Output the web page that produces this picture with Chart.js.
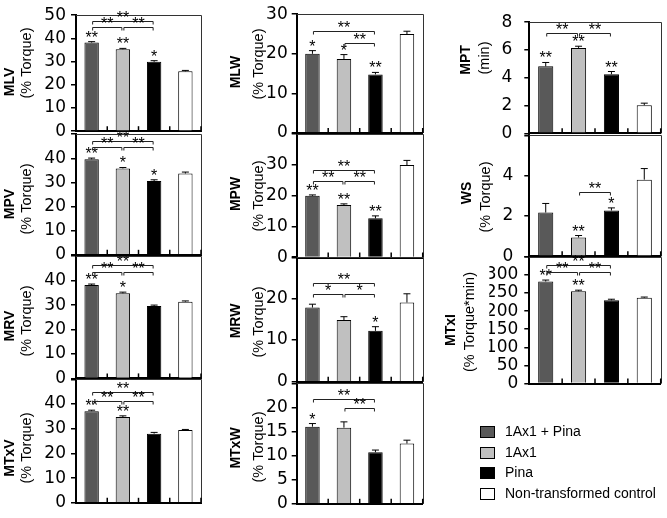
<!DOCTYPE html>
<html>
<head>
<meta charset="utf-8">
<script src="https://cdn.jsdelivr.net/npm/chart.js@4.4.1/dist/chart.umd.min.js"></script>
<style>
  body { margin: 0; background: #fff; }
  #wrap { position: relative; width: 667px; height: 518px; overflow: hidden; }
  #wrap canvas { position: absolute; left: 0; top: 0; }
  .lg { position: absolute; font: 14px "Liberation Sans", Arial, sans-serif; color: #000; white-space: nowrap; }
  .lg i { position: absolute; left: 0; top: 3px; width: 13px; height: 10px; border: 1px solid #000; }
  .lg span { position: absolute; left: 25px; top: 0; line-height: 16px; }
</style>
</head>
<body>
<div id="wrap"></div>
<script>
// groups, same order in every panel
const groups = ['1Ax1 + Pina', '1Ax1', 'Pina', 'Non-transformed control'];
const barColors = ['#595959', '#c0c0c0', '#000000', '#ffffff'];

// values (mean, SE, stars over bars, brackets [from, to, level, label])
const MLV = [38.2, 35.3, 29.9, 25.8];
const MLV_err = [0.4, 0.4, 0.5, 0.4];
const MLV_stars = ['**', '**', '*', ''];
const MLV_brackets = [[0, 2, 47.5, '**'], [0, 1, 44.8, '**'], [1, 2, 44.8, '**']];

const MPV = [39.6, 35.8, 30.6, 33.7];
const MPV_err = [0.5, 0.4, 0.5, 0.6];
const MPV_stars = ['**', '*', '*', ''];
const MPV_brackets = [[0, 2, 47.2, '**'], [0, 1, 44.8, '**'], [1, 2, 44.8, '**']];

const MRV = [38.2, 34.8, 29.6, 31.4];
const MRV_err = [0.4, 0.5, 0.4, 0.3];
const MRV_stars = ['**', '*', '', ''];
const MRV_brackets = [[0, 2, 46.4, '**'], [0, 1, 43.7, '**'], [1, 2, 43.7, '**']];

const MTxV = [37.1, 34.7, 28.0, 29.5];
const MTxV_err = [0.4, 0.5, 0.5, 0.2];
const MTxV_stars = ['**', '**', '', ''];
const MTxV_brackets = [[0, 2, 45.0, '**'], [0, 1, 41.3, '**'], [1, 2, 41.3, '**']];

const MLW = [20.0, 18.7, 14.8, 25.0];
const MLW_err = [0.8, 1.1, 0.5, 0.7];
const MLW_stars = ['*', '*', '**', ''];
const MLW_brackets = [[0, 2, 25.7, '**'], [1, 2, 22.8, '**']];

const MPW = [20.0, 17.0, 12.7, 30.0];
const MPW_err = [0.3, 0.4, 0.8, 1.5];
const MPW_stars = ['**', '**', '**', ''];
const MPW_brackets = [[0, 2, 28.4, '**'], [0, 1, 24.9, '**'], [1, 2, 24.9, '**']];

const MRW = [17.8, 14.8, 12.2, 19.0];
const MRW_err = [0.8, 0.8, 1.0, 2.1];
const MRW_stars = ['', '', '*', ''];
const MRW_brackets = [[0, 2, 23.6, '**'], [0, 1, 21.0, '*'], [1, 2, 21.0, '*']];

const MTxW = [16.0, 15.8, 10.7, 12.5];
const MTxW_err = [0.65, 1.2, 0.45, 0.7];
const MTxW_stars = ['*', '', '', ''];
const MTxW_brackets = [[0, 2, 21.7, '**'], [1, 2, 19.9, '**']];

const MPT = [4.82, 6.15, 4.25, 2.02];
const MPT_err = [0.28, 0.12, 0.2, 0.15];
const MPT_stars = ['**', '**', '**', ''];
const MPT_brackets = [[0, 1, 7.2, '**'], [1, 2, 7.2, '**']];

const WS = [2.17, 0.93, 2.27, 3.8];
const WS_err = [0.45, 0.1, 0.13, 0.55];
const WS_stars = ['', '**', '*', ''];
const WS_brackets = [[1, 2, 3.17, '**']];

const MTxI = [282, 255, 230, 237];
const MTxI_err = [4, 3, 3, 2];
const MTxI_stars = ['**', '**', '', ''];
const MTxI_brackets = [[0, 2, 327, '**'], [0, 1, 309, '**'], [1, 2, 309, '**']];

// panel table: plot box [left, right, top, bottom], title centres [x, y]
const panels = [
  { name: 'MLV', unit: '(% Torque)', v: MLV, e: MLV_err, s: MLV_stars, b: MLV_brackets, max: 50, step: 10, box: [76, 201, 11.7, 131.2], nameAt: [10, 82], unitAt: [27, 63], pad: 5, hideTop: false },
  { name: 'MPV', unit: '(% Torque)', v: MPV, e: MPV_err, s: MPV_stars, b: MPV_brackets, max: 50, step: 10, box: [76, 201, 134.2, 254.8], nameAt: [10, 204], unitAt: [27, 199], pad: 5, hideTop: true },
  { name: 'MRV', unit: '(% Torque)', v: MRV, e: MRV_err, s: MRV_stars, b: MRV_brackets, max: 50, step: 10, box: [76, 201, 256.2, 378.4], nameAt: [10, 326], unitAt: [27, 321], pad: 5, hideTop: true },
  { name: 'MTxV', unit: '(% Torque)', v: MTxV, e: MTxV_err, s: MTxV_stars, b: MTxV_brackets, max: 50, step: 10, box: [76, 201, 379.3, 504.3], nameAt: [10, 458], unitAt: [27, 448], pad: 5, hideTop: true },
  { name: 'MLW', unit: '(% Torque)', v: MLW, e: MLW_err, s: MLW_stars, b: MLW_brackets, max: 30, step: 10, box: [296.7, 422.7, 12, 133], nameAt: [236, 72], unitAt: [259, 64], pad: 4, hideTop: false },
  { name: 'MPW', unit: '(% Torque)', v: MPW, e: MPW_err, s: MPW_stars, b: MPW_brackets, max: 40, step: 10, box: [296.7, 422.7, 134.2, 257.5], nameAt: [236, 194], unitAt: [259, 196], pad: 4, hideTop: true },
  { name: 'MRW', unit: '(% Torque)', v: MRW, e: MRW_err, s: MRW_stars, b: MRW_brackets, max: 30, step: 10, box: [296.7, 422.7, 256.7, 381.7], nameAt: [236, 321], unitAt: [259, 322], pad: 4, hideTop: true },
  { name: 'MTxW', unit: '(% Torque)', v: MTxW, e: MTxW_err, s: MTxW_stars, b: MTxW_brackets, max: 25, step: 5, box: [296.7, 422.7, 383.3, 508.3], nameAt: [236, 448], unitAt: [259, 447], pad: 4, hideTop: true },
  { name: 'MPT', unit: '(min)', v: MPT, e: MPT_err, s: MPT_stars, b: MPT_brackets, max: 8, step: 2, box: [529.3, 660.7, 13.3, 133.3], nameAt: [466, 60], unitAt: [485, 58], pad: 12, hideTop: false },
  { name: 'WS', unit: '(% Torque)', v: WS, e: WS_err, s: WS_stars, b: WS_brackets, max: 6, step: 2, box: [529.3, 660.7, 135.3, 256.3], nameAt: [467, 193], unitAt: [486, 197], pad: 11, hideTop: true },
  { name: 'MTxI', unit: '(% Torque*min)', v: MTxI, e: MTxI_err, s: MTxI_stars, b: MTxI_brackets, max: 350, step: 50, box: [529.3, 660.7, 256.9, 383.5], nameAt: [451, 330], unitAt: [470, 322], pad: 6, hideTop: true }
];

const W = 667, H = 518, AXIS_W = 40;
const starFont = '16px "Liberation Sans", Arial, sans-serif';

// error bars, stars, brackets, box edges, inner x ticks, axis titles
function decorations(p) {
  return {
    id: 'decor',
    afterDatasetsDraw(chart) {
      const { ctx, chartArea: { left, right, top, bottom }, scales: { x, y } } = chart;
      const bars = chart.getDatasetMeta(0).data;
      ctx.save();

      // thin top / right frame
      ctx.strokeStyle = '#333';
      ctx.lineWidth = 1;
      ctx.beginPath();
      ctx.moveTo(left, Math.round(top) + 0.5);
      ctx.lineTo(Math.round(right) + 0.5, Math.round(top) + 0.5);
      ctx.lineTo(Math.round(right) + 0.5, bottom);
      ctx.stroke();

      // small upward ticks between groups
      const half = (x.getPixelForValue(1) - x.getPixelForValue(0)) / 2;
      ctx.strokeStyle = '#000';
      ctx.lineWidth = 1.5;
      for (let i = 0; i < p.v.length; i++) {
        const px = x.getPixelForValue(i) + half;
        ctx.beginPath();
        ctx.moveTo(px, bottom);
        ctx.lineTo(px, bottom - 5);
        ctx.stroke();
      }

      // error bars (upper only) and stars
      ctx.lineWidth = 1;
      ctx.font = starFont;
      ctx.textAlign = 'center';
      ctx.textBaseline = 'alphabetic';
      ctx.fillStyle = '#000';
      bars.forEach((bar, i) => {
        const yTop = y.getPixelForValue(p.v[i] + p.e[i]);
        const yBar = y.getPixelForValue(p.v[i]);
        ctx.beginPath();
        ctx.moveTo(bar.x, yBar);
        ctx.lineTo(bar.x, yTop);
        ctx.moveTo(bar.x - 3.5, yTop);
        ctx.lineTo(bar.x + 3.5, yTop);
        ctx.stroke();
        if (p.s[i]) ctx.fillText(p.s[i], bar.x, yTop + 1);
      });

      // significance brackets
      ctx.strokeStyle = '#222';
      p.b.forEach(([a, c, level, label]) => {
        const x1 = bars[a].x + 1, x2 = bars[c].x - 1;
        const yy = Math.round(y.getPixelForValue(level)) + 0.5;
        ctx.beginPath();
        ctx.moveTo(x1, yy + 3);
        ctx.lineTo(x1, yy);
        ctx.lineTo(x2, yy);
        ctx.lineTo(x2, yy + 3);
        ctx.stroke();
        ctx.fillText(label, (x1 + x2) / 2, yy + 1);
      });

      // rotated axis titles
      ctx.textBaseline = 'middle';
      ctx.save();
      ctx.translate(p.nameAt[0], p.nameAt[1]);
      ctx.rotate(-Math.PI / 2);
      ctx.font = 'bold 14px "Liberation Sans", Arial, sans-serif';
      ctx.fillText(p.name, 0, 0);
      ctx.restore();
      ctx.save();
      ctx.translate(p.unitAt[0], p.unitAt[1]);
      ctx.rotate(-Math.PI / 2);
      ctx.font = '14.5px "Liberation Sans", Arial, sans-serif';
      ctx.fillText(p.unit, 0, 0);
      ctx.restore();

      ctx.restore();
    }
  };
}

const wrap = document.getElementById('wrap');

panels.forEach(p => {
  const cv = document.createElement('canvas');
  cv.width = W;
  cv.height = H;
  wrap.appendChild(cv);
  const [pl, pr, pt, pb] = p.box;

  new Chart(cv.getContext('2d'), {
    type: 'bar',
    data: {
      labels: groups,
      datasets: [{
        data: p.v,
        backgroundColor: barColors,
        borderColor: '#000',
        borderWidth: 1,
        barPercentage: 0.46,
        categoryPercentage: 1
      }]
    },
    options: {
      responsive: false,
      animation: false,
      events: [],
      layout: { padding: { left: pl - AXIS_W, right: W - pr, top: pt, bottom: H - pb } },
      plugins: { legend: { display: false }, tooltip: { enabled: false } },
      scales: {
        x: {
          z: 1,
          afterFit(s) { s.height = 0; },
          border: { color: '#000', width: 2 },
          grid: { display: true, drawOnChartArea: false, drawTicks: false },
          ticks: { display: false }
        },
        y: {
          z: 1,
          min: 0,
          max: p.max,
          afterFit(s) { s.width = AXIS_W; },
          border: { color: '#000', width: 2 },
          grid: { drawOnChartArea: false, drawTicks: true, tickLength: 5, color: '#000', lineWidth: 1.5 },
          ticks: {
            stepSize: p.step,
            autoSkip: false,
            padding: p.pad,
            color: '#000',
            font: { family: '"DejaVu Sans", sans-serif', size: 17 },
            callback: v => (p.hideTop && v === p.max) ? '' : v
          }
        }
      }
    },
    plugins: [decorations(p)]
  });
});

// legend
const legendTop = 423, legendStep = 20.7;
groups.forEach((g, i) => {
  const row = document.createElement('div');
  row.className = 'lg';
  row.style.left = '480px';
  row.style.top = (legendTop + i * legendStep) + 'px';
  const sw = document.createElement('i');
  sw.style.background = barColors[i];
  const tx = document.createElement('span');
  tx.textContent = g;
  row.appendChild(sw);
  row.appendChild(tx);
  wrap.appendChild(row);
});
</script>
</body>
</html>
